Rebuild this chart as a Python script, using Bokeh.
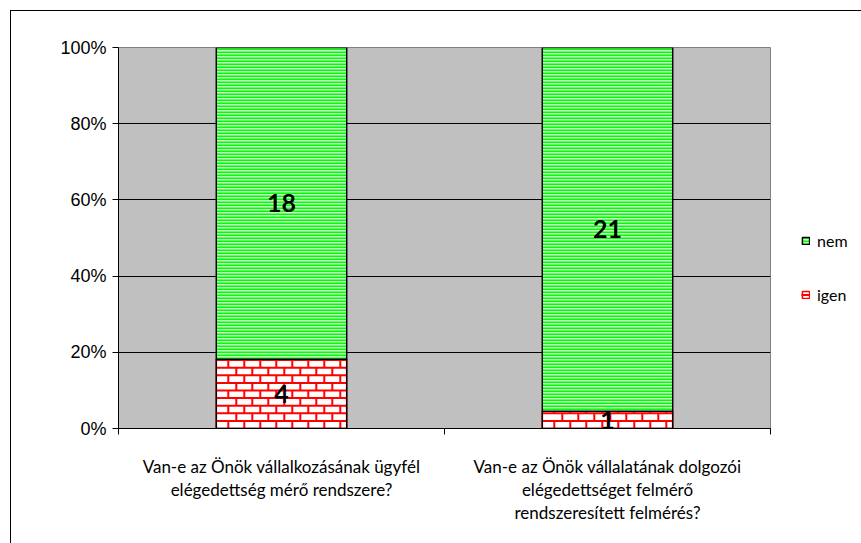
from bokeh.plotting import figure
from bokeh.models import (ColumnDataSource, FixedTicker, Legend, LegendItem, Range1d)
from bokeh.core.properties import value
from bokeh.embed import file_html
from bokeh.resources import INLINE

# ---- data ----
categories = [
    "Van-e az Önök vállalkozásának ügyfél\nelégedettség mérő rendszere?",
    "Van-e az Önök vállalatának dolgozói\nelégedettséget felmérő\nrendszeresített felmérés?",
]
igen = [4, 1]
nem = [18, 21]
y_ticks = [0, 0.2, 0.4, 0.6, 0.8, 1.0]
y_tick_labels = ["0%", "20%", "40%", "60%", "80%", "100%"]

# ---- layout / style constants ----
FRAME_W, FRAME_H = 652, 381
BAR_W = 0.4
BRICK_W_PX, BRICK_H_PX = 16, 7.6

# ---- derived ----
ncat = len(categories)
xpos = [i + 0.5 for i in range(ncat)]
tot = [a + b for a, b in zip(igen, nem)]
igen_pct = [a / t for a, t in zip(igen, tot)]
nem_pct = [b / t for b, t in zip(nem, tot)]
src = ColumnDataSource(dict(
    x=xpos,
    zero=[0] * ncat,
    igen_top=igen_pct,
    nem_top=[a + b for a, b in zip(igen_pct, nem_pct)],
    igen_mid=[a / 2 for a in igen_pct],
    nem_mid=[a + b / 2 for a, b in zip(igen_pct, nem_pct)],
    igen_lbl=[str(v) for v in igen],
    nem_lbl=[str(v) for v in nem],
))

# brick texture for the "igen" segments (derived from bar geometry)
bw = BRICK_W_PX * ncat / FRAME_W
bh = BRICK_H_PX / FRAME_H
sx0, sy0, sx1, sy1 = [], [], [], []
for xc, top in zip(xpos, igen_pct):
    left, right = xc - BAR_W / 2, xc + BAR_W / 2
    k = 0
    while k * bh < top:
        yb = k * bh
        yt = min((k + 1) * bh, top)
        if k > 0:
            sx0.append(left); sx1.append(right); sy0.append(yb); sy1.append(yb)
        off = 0 if k % 2 == 0 else bw / 2
        xv = left + off + bw * 0.75
        while xv < right:
            sx0.append(xv); sx1.append(xv); sy0.append(yb); sy1.append(yt)
            xv += bw
        k += 1
brick_src = ColumnDataSource(dict(x0=sx0, y0=sy0, x1=sx1, y1=sy1))

p = figure(frame_width=FRAME_W, frame_height=FRAME_H,
           x_range=Range1d(0, ncat), y_range=Range1d(0, 1),
           output_backend="svg", toolbar_location=None,
           min_border_left=107, min_border_top=36,
           min_border_right=91, min_border_bottom=115,
           background_fill_color="#C0C0C0", border_fill_color="white",
           styles={"border-left": "1px solid black", "border-top": "1px solid black",
                   "margin-left": "10px", "margin-top": "10px"})
p.outline_line_color = "#808080"

r_igen = p.vbar(x="x", bottom="zero", top="igen_top", width=BAR_W, source=src,
                fill_color="white", line_color="#FF0000", line_width=1.5)
r_brick = p.segment(x0="x0", y0="y0", x1="x1", y1="y1", source=brick_src,
                    line_color="#FF0000", line_width=2)
p.vbar(x="x", bottom="zero", top="igen_top", width=BAR_W, source=src,
       fill_alpha=0, line_color="black", line_width=1.5)
r_nem = p.vbar(x="x", bottom="igen_top", top="nem_top", width=BAR_W, source=src,
               fill_color="#C8FFC8", line_color="black", line_width=1.5,
               hatch_pattern="horizontal_line", hatch_color="#00FF00",
               hatch_scale=3, hatch_weight=2)

for ycol, tcol in (("igen_mid", "igen_lbl"), ("nem_mid", "nem_lbl")):
    p.text(x="x", y=ycol, text=tcol, source=src, text_font=value("Lato"),
           text_font_style="bold", text_font_size="25px", text_color="black",
           text_align="center", text_baseline="middle")

# y axis
p.yaxis.ticker = FixedTicker(ticks=y_ticks)
p.yaxis.major_label_overrides = dict(zip(y_ticks, y_tick_labels))
p.yaxis.major_label_text_font = "Liberation Sans"
p.yaxis.major_label_text_font_size = "18px"
p.yaxis.major_label_text_color = "black"
p.yaxis.axis_line_color = "black"
p.yaxis.major_tick_line_color = "black"
p.yaxis.major_tick_out = 6
p.yaxis.major_tick_in = 0
p.yaxis.minor_tick_line_color = None
p.yaxis.major_label_standoff = 6
p.ygrid.ticker = FixedTicker(ticks=y_ticks)
p.ygrid.grid_line_color = "black"
p.xgrid.grid_line_color = None

# x axis
p.xaxis.ticker = FixedTicker(ticks=xpos, minor_ticks=list(range(ncat + 1)))
p.xaxis.major_label_overrides = dict(zip(xpos, categories))
p.xaxis.major_label_text_font = "Lato"
p.xaxis.major_label_text_font_size = "17px"
p.xaxis.major_label_text_line_height = 1.1
p.xaxis.major_label_text_color = "black"
p.xaxis.axis_line_color = "black"
p.xaxis.major_tick_out = 0
p.xaxis.major_tick_in = 0
p.xaxis.minor_tick_out = 6
p.xaxis.minor_tick_in = 0
p.xaxis.minor_tick_line_color = "black"
p.xaxis.major_label_standoff = 21

legend = Legend(items=[LegendItem(label="nem", renderers=[r_nem]),
                       LegendItem(label="igen", renderers=[r_igen, r_brick])],
                location=(31, 124), padding=0, margin=0, spacing=34,
                glyph_width=9, glyph_height=9, label_height=20,
                label_standoff=7, border_line_color=None,
                background_fill_alpha=0, label_text_font="Lato",
                label_text_font_size="16px", label_text_color="black")
p.add_layout(legend, "right")

open("out.html", "w").write(file_html(p, INLINE))
